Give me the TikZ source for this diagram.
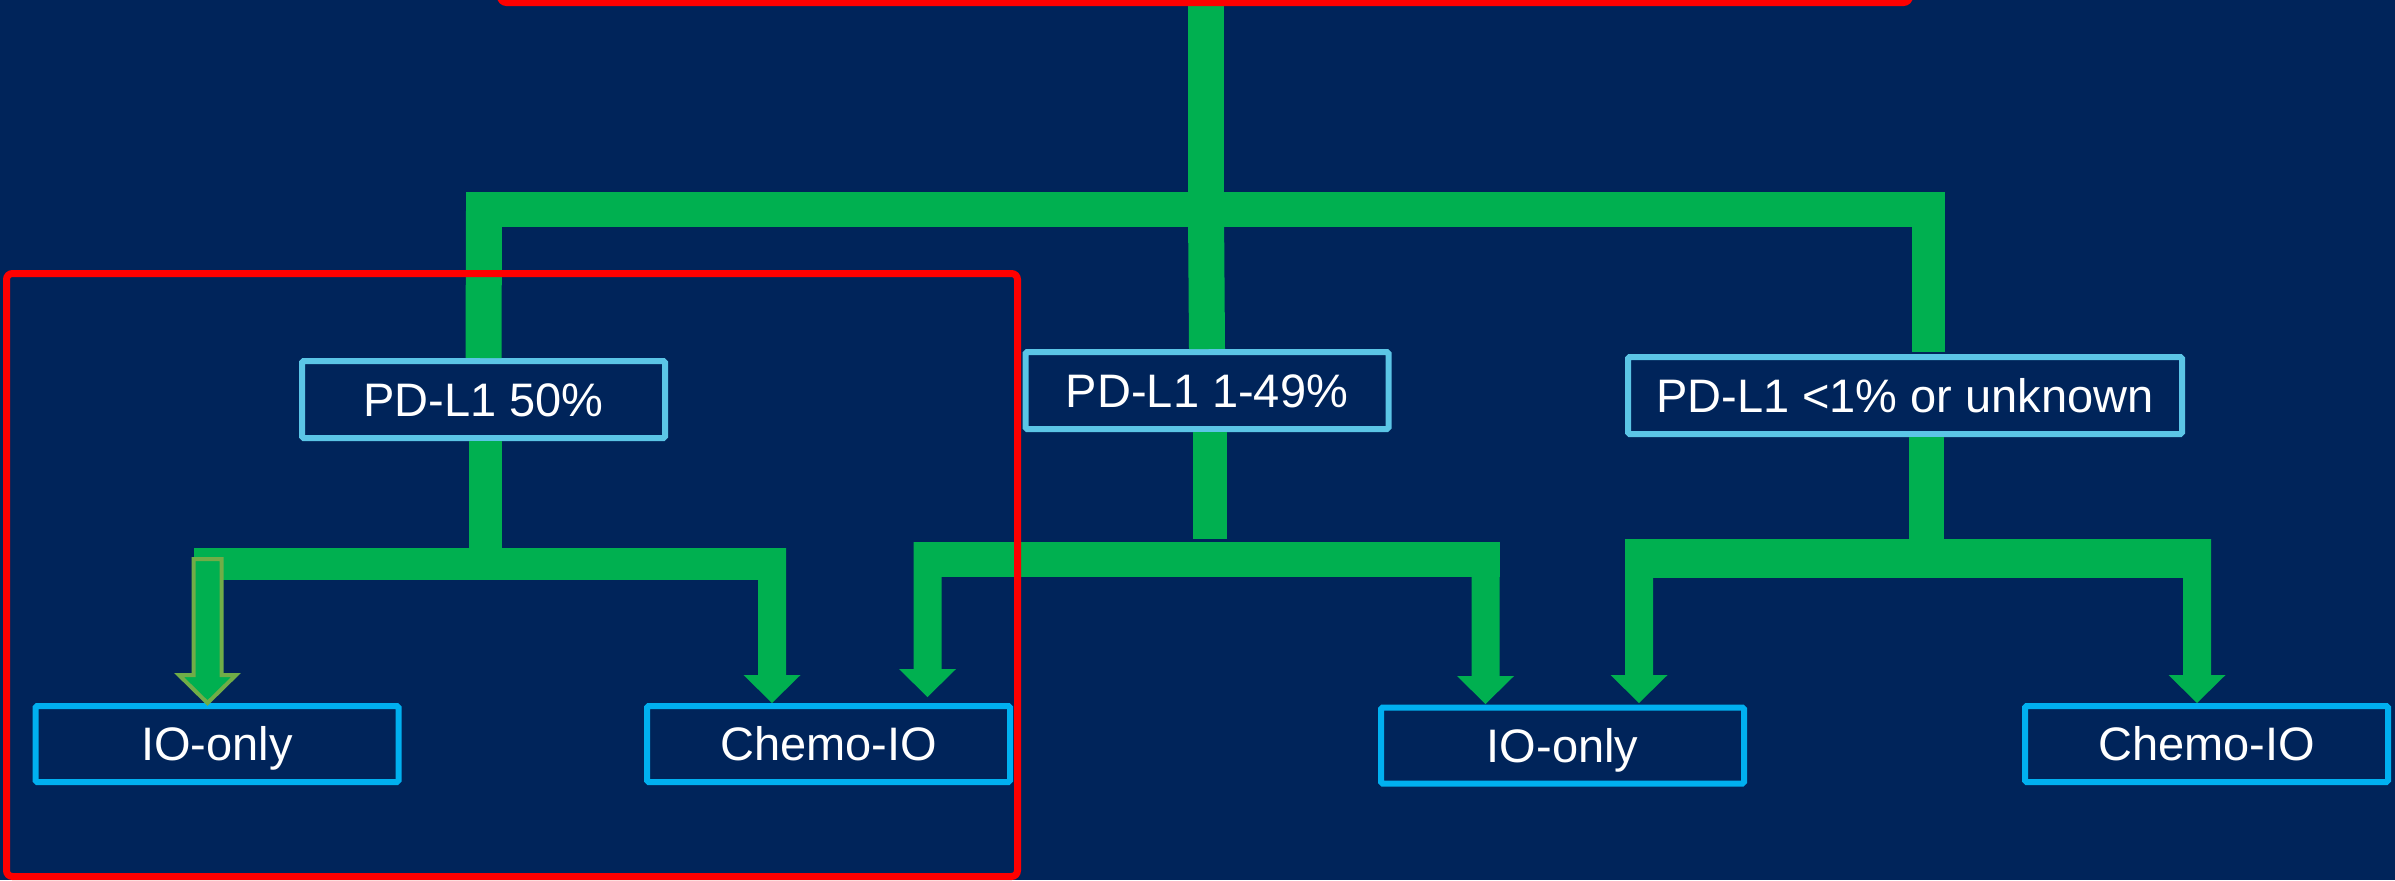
\documentclass[tikz,border=0pt]{standalone}
\usepackage{fontspec}
\setmainfont{Liberation Sans}
\definecolor{bg}{RGB}{0,36,90}
\definecolor{grn}{RGB}{0,176,80}
\definecolor{olv}{RGB}{112,173,71}
\definecolor{topb}{RGB}{91,197,230}
\definecolor{botb}{RGB}{0,176,240}
\definecolor{redb}{RGB}{255,0,0}
\newcommand{\grarrow}[3]{%
  \draw[#1] (#2) -- ++(-28.5,-28) -- ++(14.5,0) -- ++(0,-#3) -- ++(28,0) -- ++(0,#3) -- ++(14.5,0) -- cycle;}
\begin{document}
\begin{tikzpicture}[x=0.5pt,y=-0.5pt,
  basebox/.style={line width=3pt, fill=bg, text=white, font=\fontsize{23.5}{28}\selectfont,
    inner sep=0pt, text height=16.8pt, text depth=0pt, rounded corners=0.8pt},
  lvlbox/.style={basebox, draw=topb, minimum height=38.5pt, minimum width=181.5pt},
  outbox/.style={basebox, draw=botb, minimum height=38pt, minimum width=181.5pt},
  gline/.style={draw=grn, line cap=butt, line join=miter},
  garrow/.style={fill=grn, draw=none},
  oarrow/.style={fill=grn, draw=olv, line width=2pt, line join=miter},
  redbox/.style={draw=redb, line width=3.5pt, rounded corners=3pt}]
\useasboundingbox (0,0) rectangle (2395,880);
\fill[bg] (0,0) rectangle (2395,880);
\clip (0,0) rectangle (2395,880);

% boxes
\node[lvlbox] (b50) at (483.5,399.5) {PD-L1 50\%};
\node[lvlbox] (b149) at (1207,390.5) {PD-L1 1-49\%};
\node[lvlbox, minimum width=277pt] (b1u) at (1905,395.5) {PD-L1 <1\% or unknown};
\node[outbox] (io1) at (217,744) {IO-only};
\node[outbox] (ch1) at (828.5,744) {Chemo-IO};
\node[outbox] (io2) at (1562.5,745.5) {IO-only};
\node[outbox] (ch2) at (2206.5,744) {Chemo-IO};

% coordinates
\coordinate (top) at (1206,3);
\coordinate (j0) at (1206,209.5);
\coordinate (d1u) at (1928,352);
\coordinate (u1u) at (1926.5,437);
\coordinate (e149) at (1210,539);
\coordinate (e1u) at (1926.5,541);
\coordinate (j50) at (485.5,564);

% top level
\draw[gline, line width=17.5pt] (466,209.5) -- (1945,209.5);
\draw[gline, line width=18pt] (top) -- (j0);
\draw[gline, line width=18pt] (j0) -- (b149.north);
\draw[gline, line width=18pt] (484,209.5) -- (b50.north);
\draw[gline, line width=16.5pt] (1928,209.5) -- (d1u);

% second level stems
\draw[gline, line width=16.5pt] (b50.south -| j50) -- (j50);
\draw[gline, line width=17pt] (b149.south -| e149) -- (e149);
\draw[gline, line width=17.5pt] (u1u) -- (e1u);

% second level bars
\draw[gline, line width=16pt] (194,564) -- (786,564);
\draw[gline, line width=17.5pt] (914,559.5) -- (1500,559.5);
\draw[gline, line width=19.5pt] (1625,558.5) -- (2210,558.5);

% arrow tips
\coordinate (tF) at (207.5,703);
\coordinate (tA) at (772,703);
\coordinate (tB) at (927.5,697);
\coordinate (tC) at (1485.5,704);
\coordinate (tD) at (1639,703);
\coordinate (tE) at (2197,703);

\grarrow{oarrow}{tF}{116}
\grarrow{garrow}{tA}{127}
\grarrow{garrow}{tB}{127}
\grarrow{garrow}{tC}{134}
\grarrow{garrow}{tD}{136}
\grarrow{garrow}{tE}{136}

% red frames
\draw[redbox] (500.5,-60) rectangle (1909.5,2.5);
\draw[redbox] (6.5,273.5) rectangle (1017.5,876.5);
\end{tikzpicture}
\end{document}
